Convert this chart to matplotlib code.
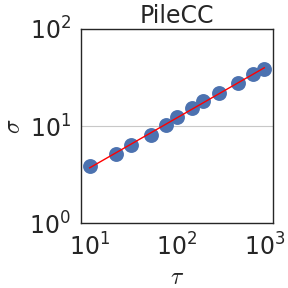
import matplotlib
matplotlib.use("Agg")
import matplotlib.pyplot as plt
import numpy as np

tau = [10, 20, 30, 50, 75, 100, 150, 200, 300, 500, 750, 1000]
sigma = [3.92, 5.13, 6.38, 8.08, 10.2, 12.5, 15.2, 18.0, 22.0, 27.8, 33.9, 38.4]

# power law fit in log space
b, loga = np.polyfit(np.log10(tau), np.log10(sigma), 1)
fit = 10 ** loga * np.array(tau, dtype=float) ** b

plt.rcParams['font.size'] = 17
plt.rcParams['text.color'] = '#262626'
plt.rcParams['axes.labelcolor'] = '#262626'
plt.rcParams['xtick.color'] = '#262626'
plt.rcParams['ytick.color'] = '#262626'

fig = plt.figure(figsize=(2.88, 2.88), dpi=100)
ax = fig.add_axes([0.281, 0.224, 0.667, 0.677])

ax.scatter(tau, sigma, s=115, color='#4C72B0', zorder=2, linewidths=0)
ax.plot(tau, fit, color='red', linewidth=1, zorder=3)

ax.set_xscale('log')
ax.set_yscale('log')
ax.set_ylim(1, 100)
ax.set_xticks([10, 100, 1000])
ax.set_yticks([1, 10, 100])
ax.minorticks_off()
ax.tick_params(length=0, pad=7, labelsize=17)

ax.grid(axis='y', color='#c8c8c8', linewidth=0.8, zorder=0)
ax.set_axisbelow(True)
for s in ax.spines.values():
    s.set_color('#262626')
    s.set_linewidth(1)

ax.set_title('PileCC', fontsize=17, pad=4)
lab = dict(fontsize=17, math_fontfamily='cm')
ax.set_xlabel(r'$\tau$', labelpad=3, **lab)
ax.set_ylabel(r'$\sigma$', labelpad=3, **lab)

fig.savefig('out.png', dpi=100)
